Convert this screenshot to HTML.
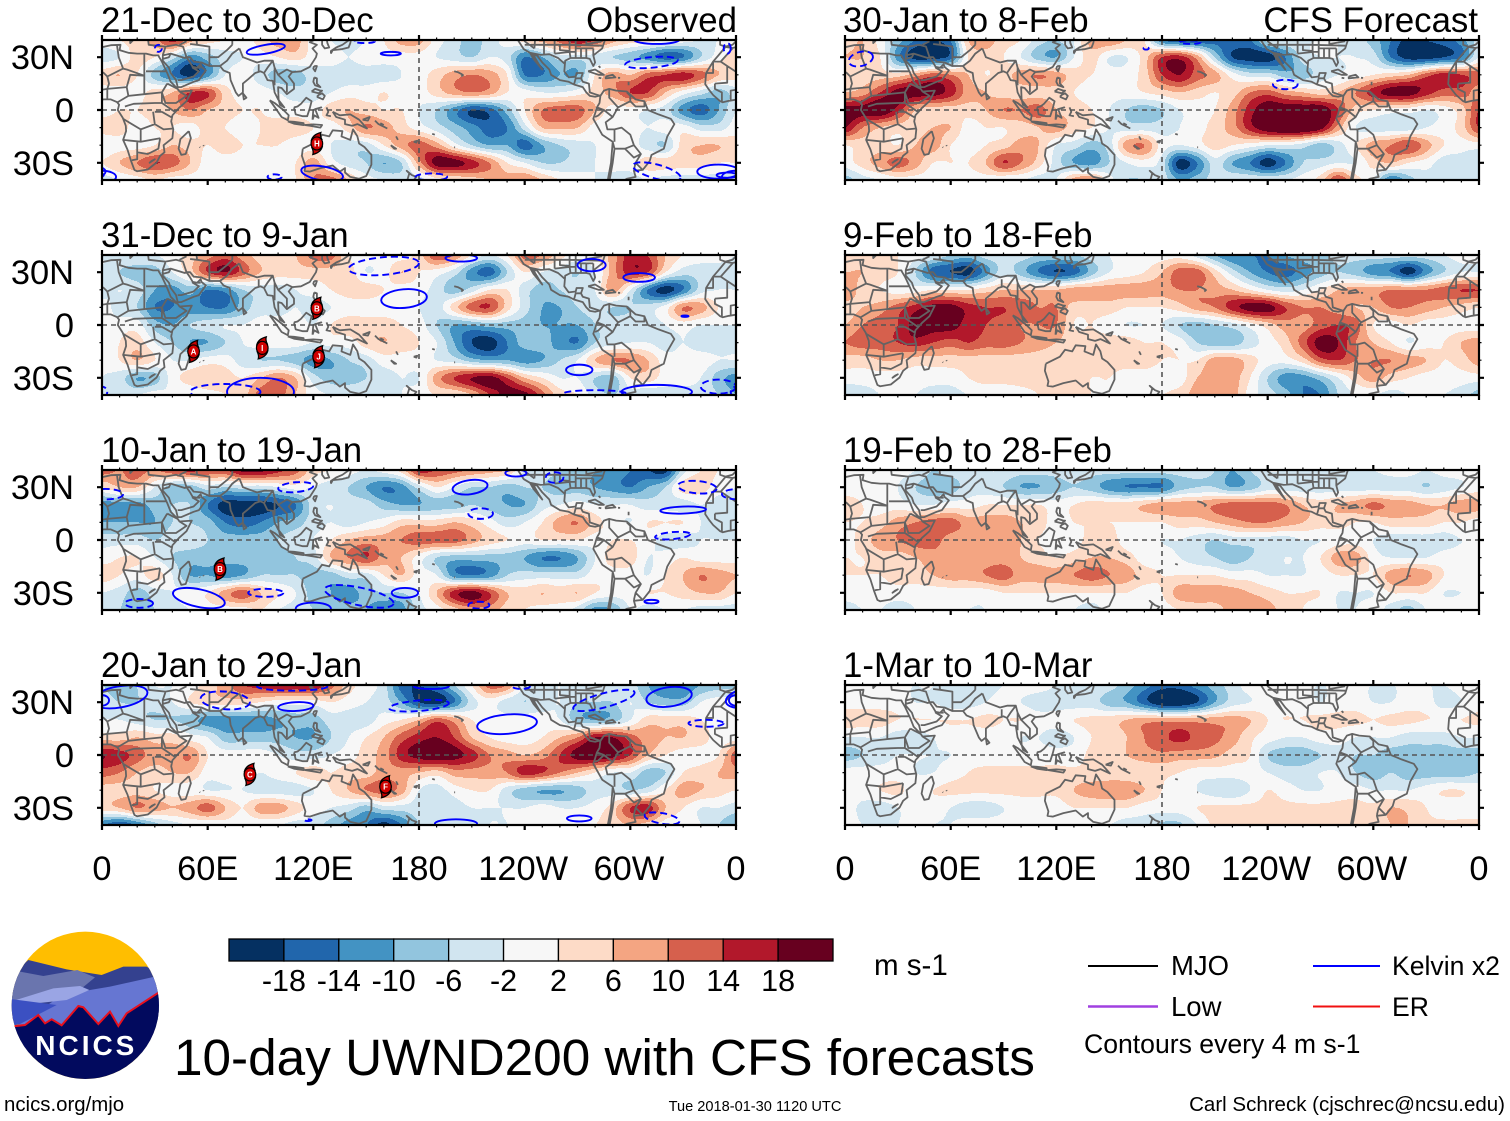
<!DOCTYPE html>
<html lang="en">
<head>
<meta charset="utf-8">
<title>10-day UWND200 with CFS forecasts</title>
<style>
html,body{margin:0;padding:0;background:#fff}
svg{display:block}
text{font-family:"Liberation Sans",sans-serif;fill:#000}
</style>
</head>
<body>
<svg id="chart" xmlns="http://www.w3.org/2000/svg" width="1510" height="1121" viewBox="0 0 1510 1121">
  <rect width="1510" height="1121" fill="#fff"/>
  <g id="panels"></g>

  <g id="colorbar"></g>
  <text x="874" y="975" font-size="29.5">m s-1</text>

  <g transform="translate(0,920) scale(0.3333)">
    <clipPath id="logo-clip"><circle cx="256" cy="256" r="221"/></clipPath>
    <g clip-path="url(#logo-clip)">
      <rect x="30" y="30" width="460" height="460" fill="#ffbe00"/>
      <polygon points="85,120 200,148 305,165 370,140 440,140 490,170 490,300 20,300 50,150" fill="#34418f"/>
      <polygon points="30,190 60,155 130,168 232,150 285,172 245,205 30,245" fill="#6a75ae"/>
      <polygon points="30,330 165,240 270,210 330,200 465,170 490,215 490,400 30,400" fill="#6676d2"/>
      <polygon points="48,240 160,205 240,198 268,210 200,240 90,252" fill="#9aa5e4"/>
      <polygon points="25,236 170,255 60,312 25,320" fill="#3b50c2"/>
      <polygon points="30,320 75,315 115,285 135,310 155,298 185,316 235,258 250,262 295,312 330,275 355,318 380,280 480,215 490,490 30,490" fill="#020a5e"/>
      <polyline points="30,320 75,315 115,285 135,310 155,298 185,316 235,258 250,262 295,312 330,275 355,318 380,280 480,215" fill="none" stroke="#e8101e" stroke-width="6"/>
    </g>
    <text x="259" y="405" text-anchor="middle" font-size="84" font-weight="bold" letter-spacing="9" style="fill:#fff">NCICS</text>
  </g>

  <text x="174" y="1075" font-size="51.3">10-day UWND200 with CFS forecasts</text>

  <g>
    <line x1="1088" x2="1158" y1="966" y2="966" stroke="#000" stroke-width="2"/>
    <text x="1171" y="975" font-size="27.5">MJO</text>
    <line x1="1088" x2="1158" y1="1006.500" y2="1006.500" stroke="#a040e0" stroke-width="2.500"/>
    <text x="1171" y="1016" font-size="27.5">Low</text>
    <line x1="1313" x2="1380" y1="966" y2="966" stroke="#0000ff" stroke-width="2"/>
    <text x="1392" y="975" font-size="26.6">Kelvin x2</text>
    <line x1="1313" x2="1380" y1="1006.500" y2="1006.500" stroke="#f01010" stroke-width="2"/>
    <text x="1392" y="1016" font-size="26.6">ER</text>
    <text x="1084" y="1053" font-size="26.6">Contours every 4 m s-1</text>
  </g>

  <text x="4" y="1111" font-size="20.4">ncics.org/mjo</text>
  <text x="755" y="1111" font-size="14.6" text-anchor="middle">Tue 2018-01-30 1120 UTC</text>
  <text x="1505" y="1111" font-size="20.5" text-anchor="end">Carl Schreck (cjschrec@ncsu.edu)</text>
</svg>

<script>
// ---------- axes ----------
const gridLons = [0,10,20,30,40,50,60,70,80,90,100,110,120,130,140,150,160,170,180,190,200,210,220,230,240,250,260,270,280,290,300,310,320,330,340,350,360];
const gridLats = [40,30,20,10,0,-10,-20,-30,-40];
const lonTicks = [0,60,120,180,240,300,360];
const lonLabels = ['0','60E','120E','180','120W','60W','0'];
const latTicks = [30,0,-30];
const latLabels = ['30N','0','30S'];
const levels = [-18,-14,-10,-6,-2,2,6,10,14,18];
const bandColors = ['#053061','#2166ac','#4393c3','#92c5de','#d1e5f0','#f7f7f7','#fddbc7','#f4a582','#d6604d','#b2182b','#67001f'];
const barLabels = ['-18','-14','-10','-6','-2','2','6','10','14','18'];
const panelTitles = ['21-Dec to 30-Dec','31-Dec to 9-Jan','10-Jan to 19-Jan','20-Jan to 29-Jan','30-Jan to 8-Feb','9-Feb to 18-Feb','19-Feb to 28-Feb','1-Mar to 10-Mar'];

// ---------- zonal wind anomaly grids (m/s), rows = gridLats, cols = gridLons ----------
const uwndDec21 = [
[0,2,4,8,16,8,4,2,0,4,8,8,0,-2,-4,-2,2,8,8,0,-4,-8,-4,0,4,8,12,18,14,8,4,4,2,0,-2,-2,0],
[-4,-2,4,2,-4,-12,-8,-4,-2,0,2,4,0,0,-2,0,0,0,0,-2,-4,-6,-2,-4,-14,-10,-4,-4,-4,-6,-8,-12,-16,-14,-6,0,4],
[4,6,2,-8,-14,-20,-12,-2,0,-4,-8,-8,-4,-4,-4,-4,-4,-2,0,4,8,10,8,2,-14,-14,-10,-10,2,8,6,12,14,16,12,6,4],
[0,0,0,4,6,14,14,4,0,0,-2,-4,-4,-2,0,0,2,0,0,4,8,10,8,2,0,-2,-2,0,4,8,14,14,6,0,-4,-8,-4],
[0,2,2,4,6,10,6,4,2,2,0,0,0,4,6,4,2,2,-2,-6,-12,-18,-16,-8,2,10,12,12,6,0,0,-2,-4,-12,-16,-10,-2],
[4,4,0,2,2,0,4,2,0,2,4,4,2,0,4,10,8,4,0,-4,-8,-12,-16,-14,-4,6,7,6,0,0,0,-2,0,0,-4,-4,0],
[-2,0,0,2,6,4,2,4,2,2,2,0,0,-2,-4,-4,2,8,12,8,0,-6,-10,-10,-16,-10,-6,-4,-2,0,0,-4,-6,4,6,6,4],
[2,6,10,14,12,6,0,0,0,0,0,2,8,0,-4,-6,-10,-6,8,20,20,16,10,2,-2,-6,-6,-4,-2,0,0,4,4,4,4,2,2],
[-4,-2,0,2,0,0,0,0,0,0,0,2,10,12,6,0,-2,-4,-4,0,2,4,6,8,10,6,2,0,-2,-4,-4,-2,-4,-4,-4,-4,-4]];
const uwndDec31 = [
[-2,-2,-2,-2,0,4,8,12,8,4,4,6,12,12,2,0,0,0,4,14,10,2,-2,2,12,10,4,0,2,8,16,14,6,2,0,0,-2],
[-2,-6,-8,-8,-2,4,14,18,12,6,4,4,4,4,4,-2,0,6,2,0,-4,-12,-16,-6,2,-2,-4,-6,-2,8,16,14,2,-4,-4,-4,-4],
[-4,-2,-4,-10,-12,-8,-14,-12,-6,-4,-4,-2,0,2,4,4,2,0,0,-4,-8,-4,2,2,-4,-8,-6,-4,-2,8,-2,-14,-20,-14,-4,-2,-2],
[0,-4,-6,-14,-14,-12,-14,-14,-8,-4,-4,-2,-4,-2,0,0,0,0,-2,-4,4,12,14,4,-4,-10,-10,-6,-4,-6,-6,-4,0,10,8,2,0],
[-2,0,0,-8,-10,-6,-4,-2,-2,0,0,0,-2,2,4,4,4,2,0,-6,-10,-10,-8,-8,-8,-10,-10,-10,-6,-4,-4,-4,-2,0,-2,-2,-2],
[-2,2,4,-2,-6,-10,-10,-6,-2,0,0,0,-2,0,0,4,6,4,2,-2,-10,-18,-20,-14,-8,-8,-12,-14,-6,-4,-2,-2,-4,-2,-4,-4,-4],
[-2,2,6,2,-2,-2,0,0,-4,-6,-6,-8,-12,-10,-6,-4,0,0,0,-2,-4,-8,-10,-10,-12,-10,-6,-2,6,10,10,6,0,0,0,-2,-2],
[-2,-4,-10,-8,0,4,6,4,2,6,10,6,-4,-8,-8,-6,-4,-2,-2,8,14,18,20,14,6,2,-2,-2,-6,-8,2,4,0,0,-2,-8,-12],
[-4,-2,-2,0,-2,-2,0,2,4,12,12,6,0,-2,-2,-2,-2,-2,0,2,2,6,14,20,20,12,4,2,-4,-6,-4,-6,-4,-4,-4,-6,-10]];
const uwndJan10 = [
[12,10,12,10,14,16,14,14,20,20,16,12,4,2,0,-2,0,4,16,14,12,10,8,6,-2,-4,-6,-8,-10,-12,-14,-18,-20,-4,2,2,-2],
[2,6,6,-2,-8,-8,-4,-6,-4,-4,-2,0,-2,-4,-6,-10,-14,-12,-4,2,-2,-6,-6,-8,-6,-6,-8,-8,-10,-12,-14,-10,-6,4,4,0,-2],
[-12,-12,-12,-8,-6,-6,-14,-20,-20,-20,-18,-14,-4,-2,-4,-4,-8,-10,-10,-8,-8,-6,-8,-10,-10,-4,-2,0,-2,-2,-2,-4,-4,-4,-2,-4,-4],
[-10,-10,-10,-10,-6,-6,-8,-14,-16,-14,-10,-8,-4,-2,-4,-2,0,4,4,4,6,4,0,-4,-2,2,8,10,4,0,-2,2,2,2,-2,-4,-6],
[-4,-4,-4,-6,-4,-4,-6,-8,-8,-8,-6,-4,-2,2,6,8,8,10,12,12,12,8,4,2,0,2,2,2,0,2,2,0,-4,-4,-2,-2,-2],
[0,2,2,-2,-6,-8,-8,-8,-8,-8,-8,-6,-4,6,10,14,8,6,0,-6,-8,-8,-8,-8,-10,-14,-14,-10,-2,4,4,-2,0,2,0,0,0],
[4,2,0,4,-2,-10,-10,-12,-10,-6,-6,-6,-8,-8,-4,-4,2,6,0,-2,-12,-14,-12,-6,-4,-4,-4,-4,0,0,0,-2,2,6,10,8,6],
[-2,-4,-8,-4,-2,0,2,8,12,6,2,-2,-8,-10,-12,-8,-6,-6,-2,6,16,20,14,6,4,6,4,6,2,0,0,2,2,4,6,6,2],
[-4,-6,-8,-6,-4,-2,0,0,0,2,-2,-4,-6,-8,-8,-10,-14,-12,-4,0,4,8,8,4,2,0,0,-4,-12,-10,-2,-4,-2,-2,-4,-4,-4]];
const uwndJan20 = [
[-6,-8,-6,-2,-2,0,4,8,14,16,18,18,18,12,4,0,-4,-16,-18,-14,-6,2,12,10,-2,-2,-2,-2,-2,-2,-4,-10,-14,-14,-10,-8,-8],
[-4,-6,-6,-4,-2,2,4,4,4,2,0,0,0,2,0,-2,-4,-10,-18,-20,-14,-4,0,-4,-6,-4,-2,-6,-6,-6,-2,-6,-8,-8,-2,0,0],
[-2,-2,-4,-6,-6,-8,-12,-12,-12,-12,-10,-8,-8,-4,-4,-4,0,2,6,12,8,2,0,0,0,0,-2,-8,-10,-8,-2,4,4,4,2,0,-2],
[4,4,6,4,4,0,-2,-8,-8,-8,-8,-10,-10,-6,-2,2,6,12,16,18,14,6,2,0,0,2,6,10,18,18,12,8,6,6,4,0,0],
[18,16,12,8,8,10,2,0,0,0,-2,-4,-4,-2,0,4,8,16,20,22,20,16,10,8,6,8,14,20,22,20,14,6,2,0,0,2,12],
[12,10,6,4,6,6,0,0,0,-2,0,2,4,2,4,4,8,8,6,4,8,8,8,10,16,14,10,6,2,-2,-2,-8,-6,2,4,6,8],
[4,4,4,2,0,0,-2,-2,-2,-4,-4,-4,-2,2,6,10,12,8,-2,-4,0,2,2,-4,-8,-10,-10,-8,-4,-4,-6,-4,2,8,6,4,2],
[4,6,10,8,6,8,12,6,2,8,8,4,0,-2,-4,-8,-4,-4,-4,-6,-4,-2,-2,-2,-2,0,-2,-2,0,4,14,16,6,2,-2,-2,-4],
[-14,-18,-14,-8,-4,-2,-2,0,-2,-2,-2,-4,-4,-8,-12,-14,-20,-14,-6,-4,-4,-4,-2,-2,0,0,0,2,2,4,6,4,0,0,-2,-6,-10]];
const uwndJan30 = [
[4,6,0,-8,-14,-18,-14,6,8,4,2,-4,-6,-2,8,10,6,2,-14,-18,-18,-16,-14,-14,-4,-2,-2,-2,-2,-4,-8,-14,-20,-18,-16,-12,-4],
[6,6,2,-12,-20,-20,-16,2,4,2,-2,-8,-10,-2,4,-2,-2,4,14,16,8,-6,-18,-20,-20,-14,-4,-2,-2,-2,-4,-14,-20,-20,-18,-14,-2],
[2,4,4,4,8,12,10,6,2,4,8,10,8,4,2,0,0,4,14,18,12,8,0,-4,-4,-8,-8,-4,-2,0,2,4,6,12,16,14,12],
[6,8,14,20,20,20,16,8,6,4,4,4,4,2,0,0,0,2,4,6,4,2,4,10,12,8,6,4,6,10,16,20,20,16,12,12,8],
[20,20,22,16,6,4,4,4,6,10,10,12,6,4,2,-2,-6,-8,-6,-2,0,2,8,16,22,22,22,22,14,4,2,0,0,-2,0,4,14],
[18,10,6,4,4,6,6,0,2,2,4,6,8,4,2,-2,-4,-4,-4,-2,0,4,8,16,22,24,24,20,8,-2,-4,-4,-4,-2,0,4,14],
[2,4,4,2,6,8,2,0,2,4,8,6,-2,-4,-8,-4,8,10,0,-2,0,4,2,0,-2,-2,-4,-8,-4,2,8,10,14,8,2,0,0],
[0,4,8,12,8,2,2,2,6,14,10,4,-4,-10,-12,-6,-2,0,-4,-20,-14,-4,-10,-14,-20,-14,-6,-4,-2,-2,4,6,2,0,-4,-4,-6],
[-8,-4,-2,0,0,0,0,0,0,-2,-2,-4,-2,8,10,0,-6,-6,-4,-10,-8,-4,-2,-2,-2,-2,0,4,14,4,-2,-14,-8,-4,-2,-2,-2]];
const uwndFeb9 = [
[4,4,4,2,0,-2,-6,-8,-4,-4,-4,-6,-6,-6,-4,-2,0,0,0,0,-4,-10,-14,-14,-14,-10,-8,-8,-4,-4,-4,-4,-4,-4,-2,0,0],
[6,6,4,2,-6,-16,-18,-20,-12,-4,-8,-14,-18,-16,-8,-2,0,2,6,12,12,4,-4,-10,-14,-16,-12,-8,-6,-8,-12,-14,-20,-12,-6,-2,-2],
[10,4,2,0,0,2,2,2,4,6,6,6,6,8,8,8,8,8,8,10,10,8,6,2,-2,-4,-2,2,6,8,8,10,10,10,12,14,14],
[4,6,8,12,16,20,20,16,14,14,12,10,10,4,4,4,2,2,2,4,8,10,16,20,20,14,10,10,8,6,6,10,10,8,6,4,2],
[6,10,12,14,20,20,20,16,14,12,10,10,10,2,2,0,-2,-2,-2,-6,-8,-6,-4,0,4,8,8,12,14,12,2,0,2,0,0,0,0],
[10,12,12,14,16,14,12,14,12,12,10,8,6,4,4,4,4,2,2,0,-6,-8,-8,-4,0,4,12,20,18,10,6,2,-2,0,2,6,8],
[4,4,6,6,4,4,4,4,4,4,4,4,4,4,4,4,4,4,2,2,2,8,8,4,0,0,4,12,14,10,10,10,8,6,2,4,8],
[0,0,0,0,0,0,0,2,4,4,4,4,4,4,2,2,0,0,0,0,6,8,8,2,-6,-12,-12,-8,-2,4,8,4,2,0,0,0,0],
[-6,-4,-2,-2,-2,-4,-4,-2,-2,-2,0,2,4,4,2,2,2,2,2,4,8,8,8,0,-4,-8,-14,-14,-6,-2,-2,-4,-2,-2,-2,-4,-8]];
const uwndFeb19 = [
[0,0,0,0,-2,-6,-4,-4,-2,-2,-4,-4,-4,-2,-4,-4,-4,-4,-4,-4,-4,-6,-10,-6,-2,-2,-2,-2,-4,-2,-2,0,0,-2,0,0,0],
[0,0,0,-2,-6,-8,-8,-4,-4,-6,-10,-10,-8,-6,-8,-12,-14,-14,-14,-8,-6,-6,-10,-8,-4,-4,-4,-4,-4,-4,-4,-4,-4,-6,-4,-2,0],
[4,2,0,0,-2,-2,0,0,2,2,2,2,0,2,4,4,4,6,8,8,8,10,12,12,12,10,6,4,6,8,11,9,8,6,6,8,8],
[2,2,4,8,10,12,12,8,8,8,6,4,0,2,2,2,2,2,2,4,4,6,8,10,10,8,6,4,4,2,2,4,4,4,2,2,0],
[0,4,8,10,12,12,8,8,8,8,6,2,0,0,4,4,0,0,-2,-2,-4,-6,-4,-4,-4,-4,-2,-2,0,0,-2,-4,-4,-4,-4,-2,-2],
[2,2,4,4,6,8,8,8,8,8,6,4,2,4,6,6,4,0,0,-2,-4,-6,-8,-6,-4,-2,-2,2,8,8,0,-2,-2,-2,0,0,0],
[2,2,2,4,4,6,8,8,10,12,8,8,8,10,12,10,8,4,2,2,2,2,0,0,-2,-2,-2,0,2,2,2,8,10,8,2,0,0],
[0,0,0,0,0,0,0,0,0,2,2,2,2,2,2,2,2,0,2,8,8,8,8,6,4,2,2,2,-2,-2,-2,2,2,2,-2,-2,-2],
[-4,-2,-2,-4,-2,0,0,-2,-2,0,0,0,0,-2,-4,0,0,0,0,2,4,4,8,10,8,4,2,0,-2,-2,0,-4,-8,-2,0,0,0]];
const uwndMar1 = [
[-2,-2,-2,-2,-2,-2,-4,-6,-4,-2,0,0,-2,-2,-2,-4,-8,-12,-16,-16,-12,-8,-4,0,0,-2,-2,-2,-2,-2,-2,-2,-2,-2,-2,0,0],
[0,0,0,0,-2,-2,-4,-4,-2,0,-2,-4,-4,-4,-4,-8,-10,-16,-22,-22,-18,-10,-4,-2,0,0,0,-2,0,0,-2,-2,0,0,-4,-2,0],
[4,4,4,2,2,2,2,2,3,2,2,0,0,2,3,4,6,8,8,8,8,8,8,6,2,2,2,3,3,3,2,3,3,2,2,2,3],
[-2,-2,-2,-4,-4,-2,0,0,0,0,-2,-2,-4,-2,2,3,6,10,13,15,13,11,8,3,0,-2,-2,0,0,-2,-2,-2,-4,-4,-4,-2,-2],
[-8,-6,-4,-2,-2,-2,-2,0,0,0,0,0,0,0,3,3,6,8,9,8,8,7,4,2,-6,-8,-8,-6,-4,-6,-6,-8,-8,-8,-8,-8,-8],
[0,0,0,0,-2,-2,0,2,3,3,3,3,3,3,3,3,3,3,3,2,0,0,0,0,-2,-4,-4,-2,-2,-6,-8,-6,-8,-8,-8,-8,-6],
[0,0,2,3,0,2,3,3,3,3,3,3,3,6,8,9,9,6,2,0,-2,-4,-5,-2,2,0,-2,-2,0,0,-2,-2,-2,0,2,2,0],
[0,-3,-4,-2,0,0,-2,-4,-4,-2,0,0,0,2,2,2,2,0,0,0,2,3,3,3,3,3,3,3,3,3,3,6,5,2,0,0,0],
[0,-2,-2,-2,0,-2,-2,0,0,0,0,0,0,-2,-2,-2,-4,-4,-7,-7,-2,3,3,3,3,3,3,3,3,2,3,6,6,3,3,3,3]];
const panelGrids = [uwndDec21,uwndDec31,uwndJan10,uwndJan20,uwndJan30,uwndFeb9,uwndFeb19,uwndMar1];

// ---------- Kelvin contours: lon, lat, half-lon, half-lat, tilt, dashed(1=negative) ----------
const kelvinDec21 = [[93,34.5,11,2.5,-10,0],[164,32,5.7,1,0,0],[149,39,6,1,0,1],[125,-36,12,4,10,0],[0,-38,8,3.5,0,0],[315,40,13,2.5,0,0],[312,27,15,3,-5,1],[350,-35,12,4,0,0],[355,-37,6,1.5,0,0],[315,-35,14,4,15,1],[187,-38,9,2,0,1],[98,-38,4,1.5,0,1],[355,35,2,3,0,1],[32,35,2,2,0,1]];
const kelvinDec31 = [[171.5,15,13,5.3,-5,0],[160,33.5,20,5,-5,1],[204,38,9,2,0,0],[278,34,8,3.5,0,0],[305,27,9,2.5,0,0],[271,-25.5,7.5,3,0,0],[331,5,2,0.4,0,0],[90,-38,19,8,0,0],[70,-38,20,4.5,0,1],[280,-39,18,2,0,1],[315,-38,20,4,0,0],[350,-35,10,4,0,1],[0,-38,3,3,0,1]];
const kelvinJan10 = [[209,30,10,4,-8,0],[110,30,10,2.8,-5,1],[215,15,7,3,0,1],[330,17,13,2,-2,0],[324,2.5,10,2,-5,1],[338,30,11,3.5,5,1],[257,35.5,5,3,0,1],[235,38,6,2,0,0],[55,-33,15,5,12,0],[93,-30,10,2.3,0,1],[21,-36,8,2.5,0,1],[172,-30,7.5,2.8,0,0],[146,-32,20,5,12,1],[120,-39,10,3.5,0,0],[214,-37,6,2,0,1],[312,-35,4,1,0,0],[2,26,10,3,0,1]];
const kelvinJan20 = [[10,33,16,6,-10,0],[70,31,14,5,5,1],[108,39,20,2.5,0,1],[110,27.5,10,2.5,-3,0],[180,28,17,3,-5,1],[187,39,10,1.5,0,0],[230,17.5,17,5.5,-5,0],[322,33,13,5.5,-8,0],[285,31,18,4,-15,1],[238,39,5,1.5,0,1],[343,18,10,2,0,1],[360,31,4,3,0,0],[271,-36,7,1.7,0,0],[318,-36,10,3,10,1],[201,-39,12,2.5,0,0],[117,-37,2,0.5,0,1]];
const kelvinJan30 = [[9,29,7,4,-15,1],[171,35,1.5,0.7,0,1],[196,38.5,6,1,0,1],[250,14.5,7,2.7,0,1]];
const kelvinGroups = [kelvinDec21,kelvinDec31,kelvinJan10,kelvinJan20,kelvinJan30,[],[],[]];

// ---------- tropical cyclone markers: lon, lat, letter ----------
const stormsDec21 = [[122,-19,'H']];
const stormsDec31 = [[122,9.5,'B'],[52,-15,'A'],[91,-13,'I'],[123,-18,'J']];
const stormsJan10 = [[67,-16.5,'B']];
const stormsJan20 = [[84,-11,'C'],[161,-18,'F']];
const stormGroups = [stormsDec21,stormsDec31,stormsJan10,stormsJan20,[],[],[],[]];

// ---------- geography (lon,lat) ----------
const coastlines = [
[-6,35.8,-10,31,-13,27.5,-17,21,-17.5,14.7,-15,11,-13,8.5,-9,5,-7.5,4.4,-4,5.2,1,6,5,6,8.5,4.5,9.7,3,9,0,11.8,-4.5,13.5,-9,13.7,-12,12,-17,14.5,-22.5,16.5,-29,18.4,-34,20,-34.8,26,-33.8,31,-29.8,33,-26,35.5,-24,35,-20,40,-16,40.5,-11,39.3,-6.5,40,-3,44,1.5,48,5,51,11,44,10.5,43,12,39,16,37,21,34,27.5,32.5,30,32,31,29,31,25,32,20,32,15,32.5,10,34,10.5,37,5,36.8,-2,35.2,-6,35.8],
[-9,42,-9,37,-6,36,-2,37,0,39,3,42],[16,40,16,38,18,40],[26,41,26.5,37,31,36.5,36,36,35.8,35,34.5,31.3,34.5,28,38,24,39,21,42,17,43,13,45,13,52,16,55,17,59,22.5,56.5,24.5,56,26,54,24,51.5,24.5,50,27,48,30,50,30,52,27.5,56.5,27,61,25,67,25,69,22.5,72.5,21,73,17,76,10,77.5,8,80,10,80,15,83,17.5,87,21,90,22,92,21,94,17,97,16.5,98,10,100,6,103.5,1.5,101,3,100.3,6,100,13,102,12.5,105,9,109,12,109,15,106,19,108,21.5,113,22,118,24.5,121.5,30,122,32,119.5,35,122,37,118,38.5,121,40,125,40,125,37,126.5,35,129,35.5,128,38,127.5,41],
[50,37.5,54,37,53.5,41],[130,32,131,34,136,34.5,140,35.5,141,38,141.5,41,140,39.5,136.5,37,133,35.5,130,33.5,130,32],[120.5,25,122,25,121,22,120,23.5,120.5,25],
[120.5,18.5,122,18,122,15,124,13,121,14,120,16,120.5,18.5],[122,7.5,125.5,6,126.5,8,125,9.5,123,8.5,122,7.5],[119,10.5,121,12,124,11,125,11,123,9.5,119,10.5],
[109,1.5,111,2,113,3.5,116,7,119,5,118,1,116.5,-3.5,114,-3.5,110,-2.5,109,1.5],[95.3,5.5,98,4,103,0,106,-3,105.5,-5.8,102,-4,98.5,1,95.3,5.5],[105.5,-6.5,109,-6.7,114.5,-7.5,114.5,-8.6,109,-7.8,105.5,-6.5],[115,-8.5,120,-8.2,125,-8.5,124,-10,118,-9,115,-8.5],
[119.5,-5.5,120,0,124.5,1.5,121,0.5,123,-4.5,120.5,-3,119.5,-5.5],[127.5,1.5,128.5,-1,127.5,-3,130,-3.5],[131,-1,135,-3,141,-2.5,146,-5.5,150.5,-10.5,145,-8,142,-9,138,-8,138,-5.5,133,-4,131,-1],[148,-5.5,152,-4,151,-6,148,-5.5],[155,-6,157,-8,160,-9.5,162,-10.5],[158,-7.5,160,-8.5],
[114,-22,113.5,-26,115.5,-32,115,-34.5,118,-35,124,-33,131,-31.5,135,-35,138,-33,138,-35.5,141,-38,146,-39,150,-37.5,153,-31,153,-25.5,149,-21,146,-19,145,-15,142.5,-11,141,-17,136,-15,136.5,-12,131,-11.5,129,-15,125,-14,122,-18,114,-22],
[173,-41,174.5,-36,173,-34.5,176,-37,178.5,-38,176,-41],[49.3,-12,50.5,-16,47.5,-25,45,-25.5,43.5,-22,44.5,-16.5,49.3,-12],[80,9.5,82,7,80.5,6,80,9.5],[164,-20,167,-22,166,-22,164,-20],[167,-15,168,-17],[177,-18,179,-17.5,178.5,-18.5,177,-18],[-172.5,-13.5,-171,-14],[-160,-21.2,-159.5,-21.2],[-156,19,-155,19.8,-156,20.5,-158,21.5,-160,22],
[57.5,-20,57.8,-20.5],[55.4,-21,55.7,-21.3],
[-125,40,-124,40,-120.5,34.5,-117,32.5,-115,31,-113,31,-110,27,-106,23,-105,20,-100,17,-95,16,-92,14.5,-87,13,-85,10,-83,8,-80,7.5,-78,8,-77,8,-80,9,-83,10,-83.5,15,-87,16,-88,18,-87,21,-90.5,21,-91,19,-95,18.5,-97.5,22,-97,28,-94,29.5,-90,29.5,-85,29.5,-83,29,-81,25,-80,27,-81,31,-76,35,-75,38,-74,41],
[-117,32.5,-115,29,-110,23,-112,26,-115,31],[-84,22,-80,23,-75,20,-78,20,-84,22],[-74,19,-70,20,-68.5,18.5,-74,18,-74,19],[-78,18.3,-76.5,18],[-67,18.3,-65.8,18.2],[-61,14,-61,16],[-78,25,-77,24],
[-77,8,-75,11,-72,12,-68,11,-62,10.5,-57,6,-52,5,-50,0,-44,-2.5,-37,-5,-35,-8,-39,-15,-41,-22,-48,-25.5,-49,-29,-53,-34,-58,-34.5,-57,-38,-62,-39,-65,-41],[-73,-41,-71,-30,-70,-18,-76,-14,-81,-5,-80,-2,-79,1.5,-77.5,4,-77,8],
[-17,21,-13,21,-13,27.5,-8.7,27.5,-5,25,1,21,3,19,12,23.5,14,23,24,19.5,24,31.5],[25,22,37,22],[8.5,36.8,9.5,30,12,23.5],[-2,35,-8.7,27.5],[-12,15,-5,15.5,-5,25],[3,6,3,12,4,15,3,19],[3,12,14,13,16,20,24,19.5],[14,13,15,8,9,4.5],[24,9,24,19.5],[15,8,24,9,34,10,37,15],[34,10,34,4,42,-1.5],[13,2,18,3.5,30,4,34,4],[29,-1,30,-8,22,-11,12,-5],[34,-1,40,-4.5],[30,-8,35,-11,40.5,-10.5],[22,-11,22,-18,12,-17],[22,-18,33,-16],[20,-18,20,-28,17,-28.5],[20,-24,26,-25,32,-22,33,-16],[37,15,43,12],[34,10,36,4,42,4,48,8,44,10.5],[-8,5,-8,10,-12,12,-12,15],[-3,5,-3,11,3,12],[34,-1,30,-1],[28,-29,30,-28,27,-30,28,-29],
[34.5,31,39,32,47,29.5,48,30],[36,36,42,37,46,36,48,30],[34.5,29,38,30,39,32],[44,37,48,39],[43,17,45,17,52,19,55,22,51.5,24,56,24],[61,25,61,30,61,36,54,37],[61,30,66,30,71,34,74,37],[67,25,71,28,74,32,78,35],[78,35,80,30,88,27,92,28,97,28,98,24,98,14],[92,21,94,24,97,28],[100,20,105,23,108,21.5],[98,24,100,20,105,15,105,10],[74,37,74,40,80,42],[89,22,89,26],
[-72,12,-72,7,-67,1.5,-70,-4,-74,-7,-73,-11,-69,-11,-65,-10,-60,-14,-58,-20,-54,-25,-57,-30,-53,-34],[-67,1.5,-60,5,-60,8,-62,10],[-60,5,-57,2,-52,2,-52,5],[-70,-18,-69,-22,-70,-30,-72,-41],[-79,1.5,-75,0,-70,-4],[-75,0,-78,-3,-80,-4],[-69,-11,-69,-18],[-69,-22,-63,-22,-58,-20],[-54,-25,-58,-27,-63,-22],[-58,-34,-57,-30],
[-117,32.5,-111,31.3,-106,31.7,-101,29.5,-97,26],[-92,14.5,-91,18,-88,18],[-120,41,-120,39,-114.5,35],[-114.5,35,-114,41],[-109,31.3,-109,41],[-103,32,-103,41],[-120,37,-94.5,37,-76,36.5],[-103,32,-94,33,-91,33],[-94.5,41,-94.5,33,-94,29.5],[-91,41,-91,29.5],[-91,35,-85,35,-81,35],[-88,35,-88,30],[-85,35,-85,30],[-100,37,-100,34,-94,33.5],[-85,41,-85,37.5,-82,38,-76,39],[-109,37,-103,37],[-114,37,-109,37],[-81,35,-81,31]
];

// ---------- layout ----------
const NS = 'http://www.w3.org/2000/svg';
const panelsG = document.getElementById('panels');
const PW = 634, PH = 140;
const leftX = 102, rightX = 845;
const topYs = [40,255,470,685];
const pxPerDeg = PW / 360;

function el(tag, attrs, parent){
  const e = document.createElementNS(NS, tag);
  for (const k in attrs) e.setAttribute(k, attrs[k]);
  parent.appendChild(e);
  return e;
}
function crom(p0,p1,p2,p3,t){
  return 0.5*((2*p1)+(-p0+p2)*t+(2*p0-5*p1+4*p2-p3)*t*t+(-p0+3*p1-3*p2+p3)*t*t*t);
}
function sample(grid,lon,lat){
  const nc = gridLons.length, nr = gridLats.length;
  const fc = (lon-gridLons[0])/(gridLons[1]-gridLons[0]);
  const fr = (gridLats[0]-lat)/(gridLats[0]-gridLats[1]);
  const c = Math.max(0,Math.min(nc-2,Math.floor(fc))), r = Math.max(0,Math.min(nr-2,Math.floor(fr)));
  const tc = fc-c, tr = fr-r;
  const rowVals = [];
  for (let j=-1;j<=2;j++){
    const row = grid[Math.max(0,Math.min(nr-1,r+j))];
    const g = i => row[Math.max(0,Math.min(nc-1,i))];
    rowVals.push(crom(g(c-1),g(c),g(c+1),g(c+2),tc));
  }
  return crom(rowVals[0],rowVals[1],rowVals[2],rowVals[3],tr);
}
function bandOf(v){
  let b = 0;
  while (b < levels.length && v >= levels[b]) b++;
  return b;
}

function buildCoast(xf,yf){
  let d = '';
  for (const off of [0,360]){
    for (const line of coastlines){
      let minLon = Infinity, maxLon = -Infinity;
      for (let i=0;i<line.length;i+=2){ minLon=Math.min(minLon,line[i]); maxLon=Math.max(maxLon,line[i]); }
      if (maxLon+off < -5 || minLon+off > 365) continue;
      for (let i=0;i<line.length;i+=2){
        d += (i?'L':'M') + xf(line[i]+off).toFixed(1) + ' ' + yf(line[i+1]).toFixed(1);
      }
    }
  }
  return d;
}

function drawStorm(parent,sx,sy,letter){
  const g = el('g',{transform:'translate('+sx+','+sy+')'},parent);
  
  
  el('path',{d:'M5 -4 Q3 -8 4 -11 Q-4 -9 -5.500 -3 Z M-5 4 Q-3 8 -4 11 Q4 9 5.500 3 Z',fill:'#c80000',stroke:'#000','stroke-width':1.3},g);
  el('ellipse',{cx:0,cy:0,rx:5.8,ry:6.5,fill:'#d00000',stroke:'#000','stroke-width':1.2},g);
  const t = el('text',{x:0,y:3,'text-anchor':'middle','font-size':8,'font-weight':'bold',style:'fill:#fff'},g);
  t.textContent = letter;
}

panelTitles.forEach((title,idx)=>{
  const isRight = idx >= 4;
  const X0 = isRight ? rightX : leftX;
  const Y0 = topYs[idx % 4];
  const eqY = Y0 + 70;
  const xf = lon => X0 + lon*pxPerDeg;
  const yf = lat => eqY - lat*pxPerDeg;

  const g = el('g',{},panelsG);
  
  

  const clipId = 'clip'+idx;
  const cp = el('clipPath',{id:clipId},g);
  el('rect',{x:X0,y:Y0,width:PW,height:PH},cp);
  const inner = el('g',{'clip-path':'url(#'+clipId+')'},g);

  // filled bands built from the grid through the axis functions
  const grid = panelGrids[idx];
  const bandD = bandColors.map(()=>[]);
  for (let py=0;py<PH;py++){
    const lat = (eqY-(Y0+py+0.5))/pxPerDeg;
    let start = 0, cur = bandOf(sample(grid,0.5/pxPerDeg,lat));
    for (let px=1;px<=PW;px++){
      const b = px<PW ? bandOf(sample(grid,(px+0.5)/pxPerDeg,lat)) : -1;
      if (b!==cur){
        bandD[cur].push('M'+(X0+start)+' '+(Y0+py)+'h'+(px-start)+'v1h-'+(px-start)+'z');
        start = px; cur = b;
      }
    }
  }
  bandD.forEach((parts,b)=>{
    if (!parts.length) return;
    const p = el('path',{d:parts.join(''),fill:bandColors[b],'shape-rendering':'crispEdges'},inner);
    
    
  });

  // coastlines
  const coast = el('path',{d:buildCoast(xf,yf),fill:'none',stroke:'#636363','stroke-width':1.8,'stroke-linejoin':'round'},inner);
  
  

  // reference lines
  const eq = el('line',{x1:X0,x2:X0+PW,y1:yf(0),y2:yf(0),stroke:'#555','stroke-width':1.6,'stroke-dasharray':'5 4'},inner);
  
  
  const dl = el('line',{x1:xf(180),x2:xf(180),y1:Y0,y2:Y0+PH,stroke:'#555','stroke-width':1.6,'stroke-dasharray':'5 4'},inner);
  
  

  // Kelvin contours
  kelvinGroups[idx].forEach(c=>{
    const offs = [0];
    if (c[0]+c[2]>360) offs.push(-360);
    if (c[0]-c[2]<0) offs.push(360);
    offs.forEach(o=>{
      const cx = xf(c[0]+o), cy = yf(c[1]);
      const attrs = {cx:cx,cy:cy,rx:c[2]*pxPerDeg,ry:c[3]*pxPerDeg,fill:'none',stroke:'#0000ff','stroke-width':1.9,transform:'rotate('+c[4]+' '+cx+' '+cy+')'};
      if (c[5]) attrs['stroke-dasharray'] = '7 4';
      const k = el('ellipse',attrs,inner);
      
      
    });
  });

  // storms
  stormGroups[idx].forEach(s=>drawStorm(g,xf(s[0]),yf(s[1]),s[2]));

  // frame
  const frame = el('rect',{x:X0,y:Y0,width:PW,height:PH,fill:'none',stroke:'#000','stroke-width':2.2},g);
  
  

  // ticks
  let minor = '', major = '';
  for (let lon=0;lon<=360;lon+=10){
    const x = xf(lon).toFixed(1);
    if (lon%60===0) major += 'M'+x+' '+(Y0-5)+'V'+Y0+'M'+x+' '+(Y0+PH)+'v5';
    else minor += 'M'+x+' '+(Y0-2.5)+'V'+Y0+'M'+x+' '+(Y0+PH)+'v2.5';
  }
  for (let lat=-30;lat<=30;lat+=10){
    const y = yf(lat).toFixed(1);
    if (lat%30===0) major += 'M'+(X0-5)+' '+y+'H'+X0+'M'+(X0+PW)+' '+y+'h5';
    else minor += 'M'+(X0-2.5)+' '+y+'H'+X0+'M'+(X0+PW)+' '+y+'h2.5';
  }
  const mi = el('path',{d:minor,stroke:'#000','stroke-width':1.2,fill:'none'},g);
  
  
  const ma = el('path',{d:major,stroke:'#000','stroke-width':2.2,fill:'none'},g);
  
  

  // title
  const t = el('text',{x:X0-(isRight?2:1),y:Y0-8,'font-size':34.8},g);
  
  
  t.textContent = title;

  if (idx===0 || idx===4){
    const r = el('text',{x:X0+PW+(isRight?-1:1),y:Y0-8,'font-size':34.8,'text-anchor':'end'},g);
    
    
    r.textContent = idx===0 ? 'Observed' : 'CFS Forecast';
  }

  if (!isRight){
    latTicks.forEach((lat,i)=>{
      const l = el('text',{x:74,y:yf(lat)+12,'font-size':34.4,'text-anchor':'end'},g);
      
      
      l.textContent = latLabels[i];
    });
  }
  if (idx%4===3){
    lonTicks.forEach((lon,i)=>{
      const shift = (lon>180 && lon<360) ? 1.5 : 0;
      const l = el('text',{x:xf(lon)-shift,y:880,'font-size':34.4,'text-anchor':'middle'},g);
      
      
      l.textContent = lonLabels[i];
    });
  }
});

// ---------- colorbar ----------
const cb = document.getElementById('colorbar');
const cbX = 229, cbW = 604, cbY = 939, cbH = 22, cbStep = cbW/bandColors.length;
bandColors.forEach((c,i)=>{
  const r = el('rect',{x:cbX+i*cbStep,y:cbY,width:cbStep,height:cbH,fill:c,stroke:'#000','stroke-width':1.3},cb);
  
  
});
barLabels.forEach((s,i)=>{
  const t = el('text',{x:cbX+(i+1)*cbStep,y:991,'font-size':30.5,'text-anchor':'middle'},cb);
  
  
  t.textContent = s;
});
</script>
</body>
</html>
